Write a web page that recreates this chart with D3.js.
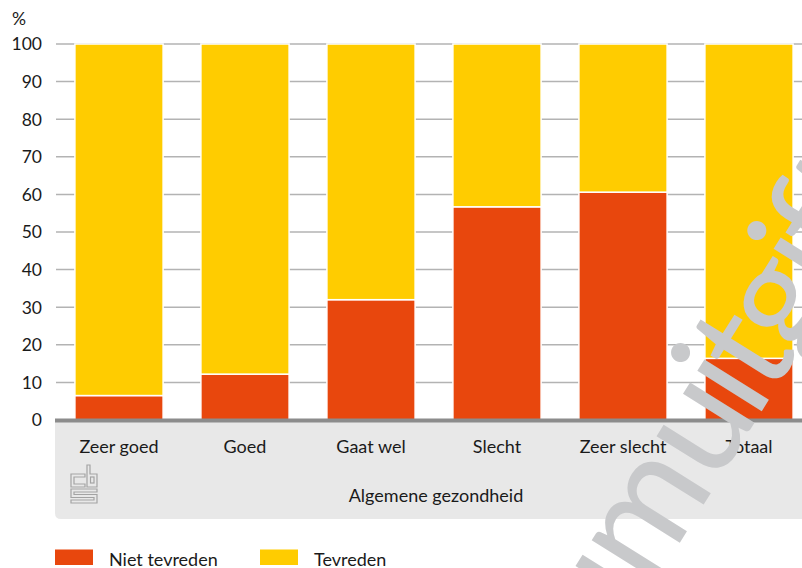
<!DOCTYPE html>
<html><head><meta charset="utf-8">
<script src="https://cdn.jsdelivr.net/npm/d3@7"></script>
<style>
html,body{margin:0;padding:0;background:#fff;}
svg{display:block;font-family:Lato,"Noto Sans",sans-serif;}
</style></head>
<body><svg id="c" width="802" height="568"></svg>
<script>
const categories = ["Zeer goed","Goed","Gaat wel","Slecht","Zeer slecht","Totaal"];
const nietTevreden = [6.5, 12.2, 32.0, 56.7, 60.6, 16.4];
const tevreden = [93.5, 87.8, 68.0, 43.3, 39.4, 83.6];
const seriesNames = ["Niet tevreden","Tevreden"];
const seriesColors = ["#e8470d","#ffcc00"];
const yTicks = [0,10,20,30,40,50,60,70,80,90,100];
const xTitle = "Algemene gezondheid";
const yUnit = "%";
const watermarkLeft = "Embargo tot datum";
const watermarkRight = "uitgifte";

const svg = d3.select("#c");
const W = 802, H = 568;
const FS = 18;
const y = d3.scaleLinear().domain([0,100]).range([420,44]);
const x = d3.scaleBand().domain(categories).range([56,812]).paddingInner(0.3).paddingOuter(0.15);

// gridlines
svg.append("g").selectAll("line").data(yTicks.filter(d=>d>0)).join("line")
  .attr("x1",56).attr("x2",W).attr("y1",d=>y(d)).attr("y2",d=>y(d))
  .attr("stroke","#b3b3b3").attr("stroke-width",1.5);

// y labels
svg.append("g").selectAll("text").data(yTicks).join("text")
  .attr("x",42).attr("y",d=>y(d)).attr("dy","0.36em").attr("text-anchor","end")
  .attr("font-size",17.5).attr("fill","#1a1a1a").text(d=>d);
svg.append("text").attr("x",12).attr("y",25).attr("font-size",17.5).attr("fill","#1a1a1a").text(yUnit);

// stacked bars
const rows = categories.map((c,i)=>({cat:c, "Niet tevreden":nietTevreden[i], "Tevreden":tevreden[i]}));
const stack = d3.stack().keys(seriesNames)(rows);
svg.append("g").selectAll("g").data(stack).join("g")
  .attr("fill",(d,i)=>seriesColors[i])
  .selectAll("rect").data(d=>d).join("rect")
  .attr("x",d=>x(d.data.cat)).attr("width",x.bandwidth())
  .attr("y",d=>y(d[1])).attr("height",d=>y(d[0])-y(d[1]))
  .attr("stroke","#fff").attr("stroke-width",1.5);

// x-axis panel
const px0 = 55, py0 = 420, py1 = 519, r = 6;
svg.append("path")
  .attr("d",`M${px0},${py0} H${W} V${py1} H${px0+r} Q${px0},${py1} ${px0},${py1-r} Z`)
  .attr("fill","#e8e8e8");
svg.append("rect").attr("x",px0).attr("y",418.5).attr("width",W-px0).attr("height",4).attr("fill","#8c8c8c");

// category labels
svg.append("g").selectAll("text").data(categories).join("text")
  .attr("x",d=>x(d)+x.bandwidth()/2).attr("y",453).attr("text-anchor","middle")
  .attr("font-size",FS).attr("fill","#1a1a1a").text(d=>d);
svg.append("text").attr("x",436).attr("y",502).attr("text-anchor","middle")
  .attr("font-size",FS).attr("fill","#1a1a1a").text(xTitle);

// cbs logo
const logo = svg.append("g").attr("transform","translate(71,465)")
  .attr("fill","none").attr("stroke","#a3a3a3").attr("stroke-width",1.2);
logo.append("path").attr("d","M14,9 H0 V22 H14 V19 H3 V12 H14 Z");
logo.append("path").attr("d","M16,0 H19 V9 H26 V22 H16 Z");
logo.append("rect").attr("x",19.5).attr("y",12).attr("width",3.5).attr("height",6);
logo.append("path").attr("d","M0,24 H26 V27 H3 V29.5 H26 V38 H0 V35 H23 V32.5 H0 Z");

// legend
const leg = svg.append("g");
const legX = [55,260];
seriesNames.forEach((s,i)=>{
  leg.append("rect").attr("x",legX[i]).attr("y",549.5).attr("width",38).attr("height",15.5).attr("fill",seriesColors[i]);
  leg.append("text").attr("x",legX[i]+54).attr("y",565.5).attr("font-size",FS).attr("fill","#1a1a1a").text(s);
});

// watermark
const wm = svg.append("g").attr("transform","translate(720,478) rotate(-58)")
  .attr("fill","#c8c9cb").attr("font-size",150);
wm.append("text").attr("x",-12).attr("text-anchor","end").attr("letter-spacing",-4).text(watermarkLeft);
wm.append("text").attr("x",-8).attr("text-anchor","start").attr("letter-spacing",-8).text(watermarkRight);
</script></body></html>
